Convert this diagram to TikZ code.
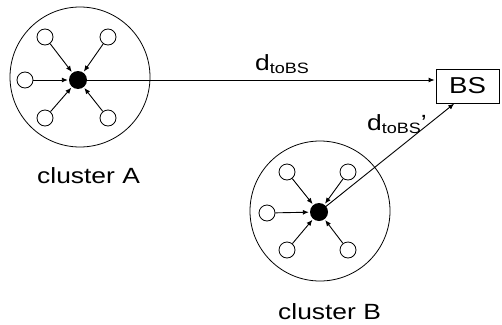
\documentclass[tikz,border=0pt]{standalone}
\usepackage{fontspec}
\setmainfont[FakeStretch=1.2]{Liberation Sans}
\usetikzlibrary{arrows.meta,calc}
\begin{document}
\begin{tikzpicture}[x=1pt,y=-1pt,
  cluster/.style={circle,draw,line width=0.8pt,minimum size=140pt,inner sep=0pt},
  member/.style={circle,draw,line width=0.8pt,minimum size=16pt,inner sep=0pt},
  head/.style={circle,fill=black,minimum size=18pt,inner sep=0pt},
  link/.style={line width=0.9pt,-{Latex[length=6pt,width=5pt]},shorten >=1pt},
  lbl/.style={font=\fontsize{22}{26}\selectfont,inner sep=0pt,anchor=base west}]
\useasboundingbox (0,0) rectangle (502,324);
% cluster A
\node[cluster] (cA) at (80,77) {};
\node[head] (hA) at (78,80) {};
\node[member] (a1) at (45,37) {};
\node[member] (a2) at (108,37) {};
\node[member] (a3) at (25,80) {};
\node[member] (a4) at (45,118) {};
\node[member] (a5) at (108,118) {};
\foreach \m in {a1,a2,a3,a4,a5} \draw[link] (\m) -- (hA);
% cluster B
\node[cluster] (cB) at (320,211) {};
\node[head] (hB) at (319,212) {};
\node[member] (b1) at (287,172) {};
\node[member] (b2) at (348,172) {};
\node[member] (b3) at (267,213) {};
\node[member] (b4) at (287,250) {};
\node[member] (b5) at (348,250) {};
\foreach \m in {b1,b2,b3,b4,b5} \draw[link] (\m) -- (hB);
% base station
\node[draw,line width=0.8pt,minimum width=63pt,minimum height=34pt,inner sep=0pt,font=\fontsize{23}{26}\selectfont] (BS) at (467.5,86) {BS};
\coordinate (bsin) at (455,103);
\draw[link] (hA.center) -- (hA.center -| BS.west);
\draw[link] (hB.center) -- (bsin);
% labels
\node[lbl] (dA) at (255,70) {d\raisebox{-3.5pt}{\fontsize{15}{15}\selectfont toBS}};
\node[lbl] (dB) at (367,130) {d\raisebox{-3.5pt}{\fontsize{15}{15}\selectfont toBS}’};
\node[lbl] (tA) at (37,183) {cluster A};
\node[lbl] (tB) at (278,319) {cluster B};
\end{tikzpicture}
\end{document}
